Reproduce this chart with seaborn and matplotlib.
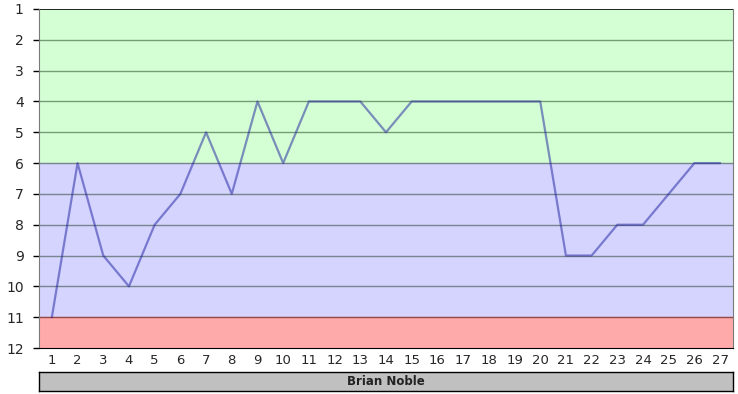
import pandas as pd
import matplotlib.pyplot as plt
import seaborn as sns

# league positions by round
rounds = list(range(1, 28))
positions = [11, 6, 9, 10, 8, 7, 5, 7, 4, 6, 4, 4, 4, 5, 4, 4, 4, 4, 4, 4, 9, 9, 8, 8, 7, 6, 6]
player = "Brian Noble"

df = pd.DataFrame({'Round': rounds, 'Position': positions})

sns.set_style("white")
plt.rcParams['font.family'] = ['DejaVu Sans']

fig = plt.figure(figsize=(7.38, 3.94), dpi=100)
ax = fig.add_axes([39/738, 46/394, 694/738, 339/394])

# coloured zones
ax.axhspan(1, 6, color='#d4ffd4', zorder=0)
ax.axhspan(6, 11, color='#d4d4ff', zorder=0)
ax.axhspan(11, 12, color='#ffaaaa', zorder=0)

# grid lines
for y in range(2, 11):
    ax.axhline(y, color='#1a3a1a', alpha=0.5, lw=1, zorder=1)
ax.axhline(11, color='#904848', lw=1, zorder=1)
ax.axhline(1, color='black', lw=1.2, zorder=1)

sns.lineplot(data=df, x='Round', y='Position', ax=ax, color='#1e1ea0', alpha=0.5, lw=1.6, zorder=3)

ax.set_xlim(0.5, 27.5)
ax.set_ylim(12, 1)
ax.set_xticks(rounds)
ax.set_xticks([r + 0.5 for r in range(0, 28)], minor=True)
ax.set_yticks(range(1, 13))
ax.tick_params(axis='x', which='major', length=0, labelsize=9.5, pad=4)
ax.tick_params(axis='x', which='minor', length=4, width=1, color='black', direction='out')
ax.tick_params(axis='y', length=4, width=1, color='black', labelsize=10, pad=7, left=True)
ax.set_xlabel('')
ax.set_ylabel('')

for s in ['left', 'right']:
    ax.spines[s].set_color('#7a7a7a')
ax.spines['top'].set_visible(False)
ax.spines['bottom'].set_color('black')

# name box under the chart
lab = fig.add_axes([39/738, 3/394, 694/738, 19/394])
lab.set_facecolor('#c0c0c0')
lab.set_xticks([])
lab.set_yticks([])
for s in lab.spines.values():
    s.set_color('black')
    s.set_linewidth(1)
lab.text(0.5, 0.5, player, ha='center', va='center', fontsize=8.5, fontweight='bold', color='#222222')

fig.savefig('out.png', dpi=100)
